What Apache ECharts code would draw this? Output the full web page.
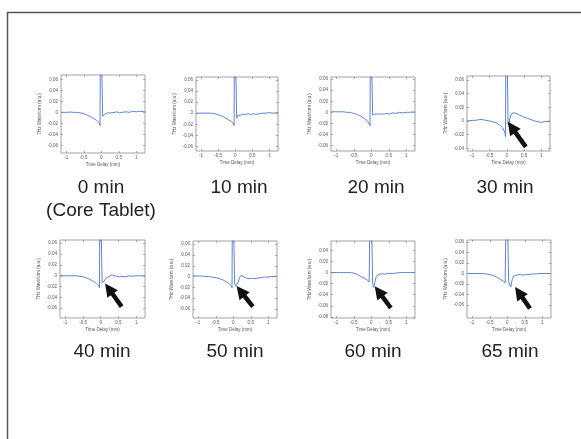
<!DOCTYPE html>
<html>
<head>
<meta charset="utf-8">
<style>
  html, body { margin: 0; padding: 0; background: #ffffff; }
  #chart { width: 581px; height: 439px; }
</style>
<script src="https://cdn.jsdelivr.net/npm/echarts@6/dist/echarts.min.js"></script>
</head>
<body>
<div id="chart"></div>
<script>
// Time delay samples (mm), shared by every waveform
const delay = [-1.15, -1.0, -0.9, -0.8, -0.7, -0.6, -0.5, -0.4, -0.3, -0.2, -0.12, -0.06, -0.035,
  -0.02, 0.02,
  0.04, 0.07, 0.1, 0.14, 0.18, 0.22, 0.27, 0.32, 0.38, 0.45, 0.52, 0.6, 0.7, 0.8, 0.9, 1.0, 1.1, 1.25];

// THz waveform (a.u.) at each coating time; the main pulse runs off the top of the plot
const wave0 = [0.000, 0.000, 0.0005, 0.000, 0.000, -0.001, -0.002, -0.005, -0.008, -0.012, -0.015, -0.019, -0.024,
  0.2, 0.2,
  -0.007, -0.005, -0.003, -0.004, -0.001, 0.001, -0.001, 0.001, 0.000, 0.001, -0.001, 0.000, 0.001, 0.000, 0.002, 0.001, 0.002, 0.001];
const wave10 = [0.000, 0.000, 0.000, 0.000, 0.000, -0.001, -0.003, -0.005, -0.008, -0.012, -0.015, -0.018, -0.022,
  0.2, 0.2,
  -0.009, -0.004, -0.002, -0.004, -0.003, -0.002, -0.004, -0.002, -0.001, -0.003, -0.001, -0.002, -0.001, 0.000, 0.000, 0.001, 0.000, 0.001];
const wave20 = [0.001, 0.001, 0.001, 0.001, 0.000, 0.000, -0.002, -0.004, -0.007, -0.011, -0.015, -0.020, -0.024,
  0.2, 0.2,
  -0.005, -0.004, -0.003, -0.004, -0.003, -0.004, -0.003, -0.004, -0.003, -0.002, -0.003, -0.001, -0.002, 0.000, -0.001, 0.000, 0.000, 0.001];
const wave30 = [0.000, 0.001, 0.001, 0.002, 0.002, 0.001, 0.000, -0.001, -0.003, -0.006, -0.010, -0.016, -0.023,
  0.2, 0.2,
  -0.006, -0.003, 0.006, 0.011, 0.013, 0.012, 0.011, 0.010, 0.008, 0.007, 0.005, 0.004, 0.002, 0.000, -0.001, -0.002, -0.001, 0.000];
const wave40 = [0.000, 0.000, 0.000, 0.000, 0.000, -0.001, -0.002, -0.004, -0.007, -0.011, -0.014, -0.018, -0.022,
  0.2, 0.2,
  -0.013, -0.016, -0.010, -0.005, -0.004, -0.002, 0.001, 0.002, 0.000, -0.001, -0.002, -0.001, -0.002, 0.000, -0.001, 0.000, 0.000, 0.000];
const wave50 = [0.001, 0.001, 0.001, 0.000, 0.000, -0.001, -0.002, -0.004, -0.006, -0.010, -0.013, -0.017, -0.021,
  0.2, 0.2,
  -0.012, -0.018, -0.021, -0.010, -0.002, 0.002, 0.000, -0.001, -0.003, -0.004, -0.003, -0.004, -0.003, -0.002, -0.001, -0.001, 0.000, 0.000];
const wave60 = [0.000, 0.000, 0.000, 0.000, 0.000, 0.000, -0.001, -0.003, -0.007, -0.010, -0.013, -0.017, -0.019,
  0.2, 0.2,
  -0.020, -0.027, -0.018, -0.008, -0.005, -0.003, -0.004, -0.002, -0.003, -0.002, -0.001, -0.002, -0.001, 0.000, 0.000, 0.000, 0.000, 0.000];
const wave65 = [0.000, 0.000, 0.000, 0.000, 0.000, -0.001, -0.002, -0.004, -0.007, -0.011, -0.014, -0.018, -0.021,
  0.2, 0.2,
  -0.015, -0.022, -0.026, -0.012, -0.005, -0.004, -0.003, -0.004, -0.002, -0.003, -0.002, -0.002, -0.001, -0.001, 0.000, 0.000, 0.000, 0.000];

const captions = ['0 min\n(Core Tablet)', '10 min', '20 min', '30 min', '40 min', '50 min', '60 min', '65 min'];

// Tick values
const delayTicks = [-1, -0.5, 0, 0.5, 1];
const waveTicks = [-0.06, -0.04, -0.02, 0, 0.02, 0.04, 0.06];
const waveTicksShallow = [-0.04, -0.02, 0, 0.02, 0.04, 0.06];
const waveTicksDeep = [-0.08, -0.06, -0.04, -0.02, 0, 0.02, 0.04];

// Arrows marking the coating interface echo: [tail, head] in (delay, waveform) units
const arrowTail = [null, null, null, [0.55, -0.038], [0.59, -0.057], [0.56, -0.056], [0.56, -0.064], [0.65, -0.067]];
const arrowHead = [null, null, null, [0.14, -0.009], [0.23, -0.024], [0.21, -0.027], [0.21, -0.034], [0.33, -0.036]];

const waves = [wave0, wave10, wave20, wave30, wave40, wave50, wave60, wave65];

// Panel placement and axis ranges
const layout = [
  { left: 61,  top: 75,  w: 84, h: 78, yMin: -0.074, yMax: 0.068, ticks: waveTicks,        cx: 101, cy: 176 },
  { left: 196, top: 77,  w: 82, h: 74, yMin: -0.068, yMax: 0.065, ticks: waveTicks,        cx: 239, cy: 176 },
  { left: 331, top: 77,  w: 84, h: 74, yMin: -0.070, yMax: 0.064, ticks: waveTicks,        cx: 376, cy: 176 },
  { left: 467, top: 76,  w: 83, h: 75, yMin: -0.044, yMax: 0.066, ticks: waveTicksShallow, cx: 505, cy: 176 },
  { left: 60,  top: 240, w: 85, h: 78, yMin: -0.078, yMax: 0.066, ticks: waveTicks,        cx: 102, cy: 340 },
  { left: 193, top: 241, w: 84, h: 77, yMin: -0.077, yMax: 0.066, ticks: waveTicks,        cx: 235, cy: 340 },
  { left: 331, top: 241, w: 84, h: 77, yMin: -0.082, yMax: 0.057, ticks: waveTicksDeep,    cx: 373, cy: 340 },
  { left: 467, top: 240, w: 84, h: 78, yMin: -0.085, yMax: 0.064, ticks: waveTicks,        cx: 510, cy: 340 }
];

const FONT = '"Liberation Sans", Arial, sans-serif';
const fmtWave = v => (v === 0 ? '0' : v.toFixed(2));
const tickStyle = { color: '#777', width: 0.6 };
const labelStyle = { fontSize: 4.5, color: '#555', fontFamily: FONT };

const grid = [], xAxis = [], yAxis = [], series = [], title = [];

layout.forEach((p, i) => {
  grid.push({
    left: p.left, top: p.top, width: p.w, height: p.h,
    show: true, borderColor: '#8a8a8a', borderWidth: 0.8, backgroundColor: 'transparent'
  });
  // bottom / left axes carry labels; top / right axes only mirror the ticks
  xAxis.push({
    type: 'value', gridIndex: i, min: -1.15, max: 1.25, position: 'bottom',
    name: 'Time Delay (mm)', nameLocation: 'middle', nameGap: 9,
    nameTextStyle: labelStyle,
    axisLine: { show: false, onZero: false },
    axisTick: { show: true, inside: true, length: 2, customValues: delayTicks, lineStyle: tickStyle },
    axisLabel: Object.assign({ customValues: delayTicks, margin: 2, formatter: v => String(v) }, labelStyle),
    splitLine: { show: false }
  });
  xAxis.push({
    type: 'value', gridIndex: i, min: -1.15, max: 1.25, position: 'top',
    axisLine: { show: false, onZero: false },
    axisTick: { show: true, inside: true, length: 2, customValues: delayTicks, lineStyle: tickStyle },
    axisLabel: { show: false },
    splitLine: { show: false }
  });
  yAxis.push({
    type: 'value', gridIndex: i, min: p.yMin, max: p.yMax, position: 'left',
    name: 'THz Waveform (a.u.)', nameLocation: 'middle', nameGap: 19, nameRotate: 90,
    nameTextStyle: labelStyle,
    axisLine: { show: false, onZero: false },
    axisTick: { show: true, inside: true, length: 2, customValues: p.ticks, lineStyle: tickStyle },
    axisLabel: Object.assign({ customValues: p.ticks, margin: 3, formatter: fmtWave }, labelStyle),
    splitLine: { show: false }
  });
  yAxis.push({
    type: 'value', gridIndex: i, min: p.yMin, max: p.yMax, position: 'right',
    axisLine: { show: false, onZero: false },
    axisTick: { show: true, inside: true, length: 2, customValues: p.ticks, lineStyle: tickStyle },
    axisLabel: { show: false },
    splitLine: { show: false }
  });

  const s = {
    type: 'line', xAxisIndex: 2 * i, yAxisIndex: 2 * i,
    data: delay.map((d, k) => [d, waves[i][k]]),
    showSymbol: false, symbol: 'none', clip: true, silent: true, animation: false,
    lineStyle: { color: '#5f83d4', width: 1 }
  };
  if (arrowTail[i]) {
    s.markLine = {
      silent: true, animation: false,
      symbol: ['none', 'triangle'], symbolSize: 13,
      label: { show: false },
      lineStyle: { color: '#111', width: 4.5, type: 'solid', opacity: 1 },
      itemStyle: { color: '#111' },
      emphasis: { disabled: true },
      data: [[{ coord: arrowTail[i] }, { coord: arrowHead[i] }]]
    };
  }
  series.push(s);

  title.push({
    text: captions[i], left: p.cx, top: p.cy, padding: 0,
    textAlign: 'center', textVerticalAlign: 'top',
    textStyle: { fontSize: 19, lineHeight: 23, fontWeight: 'normal', color: '#222', fontFamily: FONT }
  });
});

const chart = echarts.init(document.getElementById('chart'), null, { renderer: 'canvas' });
chart.setOption({
  backgroundColor: '#ffffff',
  animation: false,
  title, grid, xAxis, yAxis, series,
  graphic: [{
    type: 'rect', silent: true,
    shape: { x: 7.5, y: 12.5, width: 600, height: 460 },
    style: { fill: 'none', stroke: '#555', lineWidth: 1.5 }
  }]
});
</script>
</body>
</html>
